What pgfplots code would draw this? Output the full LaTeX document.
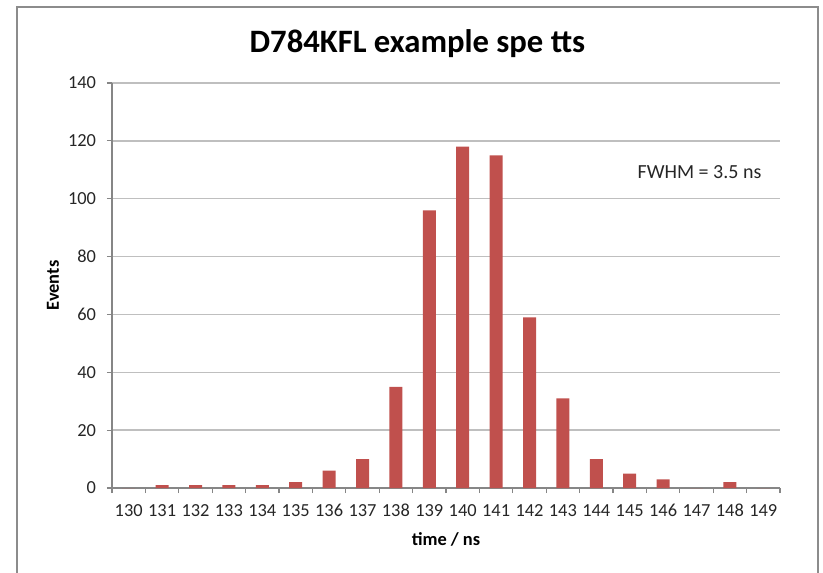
\documentclass[border=0pt]{standalone}
\usepackage{pgfplots}
\pgfplotsset{compat=1.18}
\usepackage{fontspec}
\setmainfont{Carlito}
\definecolor{barred}{HTML}{C0504D}
\definecolor{gridgray}{HTML}{BFBFBF}
\definecolor{axisgray}{HTML}{868686}
\definecolor{framegray}{HTML}{8C8C8C}
\definecolor{txt}{HTML}{262626}
\begin{document}
\begin{tikzpicture}
\useasboundingbox (0,0) rectangle (617.25pt,-429.75pt);
\draw[framegray, line width=1.1pt] (12.75pt,-429.75pt) -- (12.75pt,-5.25pt) -- (613.5pt,-5.25pt) -- (613.5pt,-429.75pt);
\node[anchor=base, inner sep=0pt, font=\fontsize{24.5}{28}\selectfont\bfseries] at (313.1pt,-39.5pt) {D784KFL example spe tts};
\begin{axis}[
  at={(84pt,-366pt)}, anchor=south west,
  scale only axis, width=501pt, height=303.75pt,
  ybar, bar width=9.75pt,
  xmin=-0.5, xmax=19.5, ymin=0, ymax=140,
  axis x line*=bottom, axis y line*=left,
  axis line style={draw=axisgray, line width=0.8pt},
  ymajorgrids, grid style={draw=gridgray, line width=1.1pt},
  ytick={0,20,...,140},
  xtick={-0.5,0.5,...,19.5}, xticklabels={},
  extra x ticks={0,...,19},
  extra x tick labels={130,131,132,133,134,135,136,137,138,139,140,141,142,143,144,145,146,147,148,149},
  extra x tick style={major tick length=0pt},
  tick align=outside, major tick length=3.75pt,
  tick style={draw=axisgray, line width=0.8pt},
  /pgf/number format/assume math mode=true,
  tick label style={font=\fontsize{13.8}{16}\selectfont, text=txt, inner sep=0pt},
  yticklabel style={anchor=east, xshift=-8pt},
  xticklabel style={anchor=center, yshift=-16.9pt},
  xlabel={time / ns}, ylabel={Events},
  label style={font=\fontsize{13.8}{16}\selectfont\bfseries, text=black},
  xlabel style={at={(axis description cs:0.5,-0.126)}, anchor=center},
  ylabel style={at={(axis description cs:-0.0883,0.5)}, anchor=center},
  clip=false,
]
\addplot[fill=barred, draw=none] coordinates {
(0,0) (1,1) (2,1) (3,1) (4,1) (5,2) (6,6) (7,10) (8,35) (9,96)
(10,118) (11,115) (12,59) (13,31) (14,10) (15,5) (16,3) (17,0) (18,2) (19,0)};
\node[font=\fontsize{15}{18}\selectfont, text=txt, anchor=center] at (axis cs:17.09,109.2) {FWHM = 3.5 ns};
\end{axis}
\end{tikzpicture}
\end{document}
